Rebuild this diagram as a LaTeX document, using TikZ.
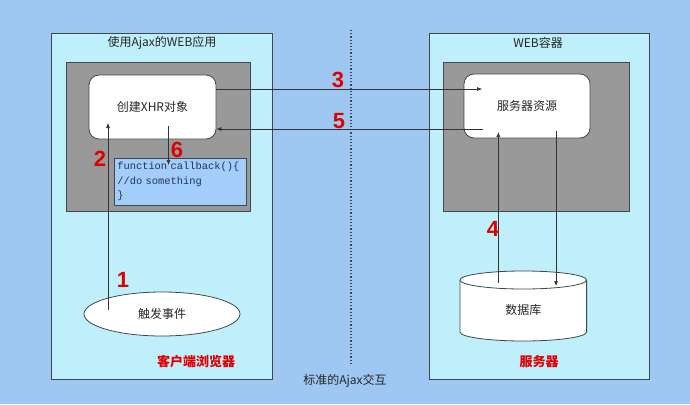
\documentclass[tikz,border=0pt]{standalone}
\usepackage{fontspec}
\setmainfont{Noto Sans CJK SC}
\newfontfamily\numfont{Liberation Sans}
\setmonofont{Liberation Mono}
\usepackage{tikz}
\usetikzlibrary{arrows.meta, shapes.geometric, calc}
\usetikzlibrary{positioning}
\usepackage{xcolor}
\definecolor{bgblue}{RGB}{158,200,242}
\definecolor{panelc}{RGB}{191,239,250}
\definecolor{greyc}{RGB}{153,153,153}
\definecolor{codec}{RGB}{164,206,250}
\definecolor{edge}{RGB}{60,72,84}
\definecolor{numred}{RGB}{225,0,0}
\definecolor{codetext}{RGB}{30,50,100}

\begin{document}
\begin{tikzpicture}[x=1pt, y=-1pt, font=\fontsize{12}{14}\selectfont, text=black!85,
		panel/.style={draw=edge, fill=panelc, line width=0.8pt},
		grey/.style={draw=edge, fill=greyc, line width=0.8pt},
		box/.style={draw=edge, fill=white, line width=0.8pt, rounded corners=10pt},
		num/.style={text=numred, font=\numfont\bfseries\fontsize{22}{22}\selectfont},
		redlabel/.style={text=numred, font=\bfseries\fontsize{13}{15}\selectfont},
		arr/.style={-{Latex[length=5pt,width=4pt]}, line width=0.6pt, draw=black!80}]
		\useasboundingbox[fill=bgblue] (0,0) rectangle (690,404);
		
		\begin{scope}
			\draw[panel] (51,33) rectangle (272,379);
			\node (app) at (162,43) {使用Ajax的WEB应用};
			\draw[grey] (66,62) rectangle (250,211);
			\node[box, minimum width=127pt, minimum height=64pt] (xhr) at (152.5,107) {创建XHR对象};
			\node[draw=edge, fill=codec, line width=0.8pt, minimum width=132pt, minimum height=47pt,
				text width=126pt, align=left, inner sep=3pt, text=codetext,
				font=\ttfamily\fontsize{10.4}{14.4}\selectfont] (cb) at (180.3,181.7)
				{function callback()\{\\//do something\\\}};
			\node[ellipse, draw=edge, fill=white, line width=0.8pt, minimum width=156pt, minimum height=44pt] (evt) at (162,314) {触发事件};
			\node[redlabel] (client) at (196,362) {客户端浏览器};
		\end{scope}
		
		\begin{scope}
			\draw[panel] (429,33) rectangle (649,379);
			\node (web) at (538,43) {WEB容器};
			\draw[grey] (443,62) rectangle (629,211);
			\node[box, minimum width=126pt, minimum height=64pt] (res) at (527,106) {服务器资源};
			\draw[draw=edge, fill=white, line width=0.8pt] (460,280) -- (460,332)
				arc[start angle=180, end angle=0, x radius=63.3, y radius=9] -- (586.6,280);
			\draw[draw=edge, fill=white, line width=0.8pt] (523.3,280) ellipse[x radius=63.3, y radius=9];
			\node (db) at (523.3,310) {数据库};
			\node[redlabel] (server) at (539,362) {服务器};
		\end{scope}
		
		% divider and caption
		\coordinate (divtop) at (351,30);
		\coordinate (divbot) at (351,365);
		\draw[dotted, line width=1.2pt, draw=edge] (divtop) -- (divbot);
		\node (title) at (345,381) {标准的Ajax交互};
		
		% steps
		\draw[arr] ($(evt.center)+(-54,-4)$) -- ($(xhr.center)+(-44.5,16)$);
		\draw[arr] ($(xhr.east)+(0,-18)$) -- ($(res.center)+(-45,-17)$);
		\draw[arr] ($(db.center)+(-25,-27)$) -- ($(res.center)+(-28.7,26)$);
		\draw[arr] ($(res.center)+(29,25)$) -- ($(db.center)+(32.7,-24)$);
		\draw[arr] ($(res.center)+(-44,23)$) -- ($(xhr.east)+(0,22)$);
		\draw[arr] ($(xhr.center)+(16,19)$) -- ($(cb.center)+(-11.8,-16.7)$);
		
		\node[num] (n1) at (123,280) {1};
		\node[num] (n2) at (100,159) {2};
		\node[num] (n3) at (338,80) {3};
		\node[num] (n4) at (493,229) {4};
		\node[num] (n5) at (339,121) {5};
		\node[num] (n6) at (177,150) {6};
	\end{tikzpicture}
\end{document}
